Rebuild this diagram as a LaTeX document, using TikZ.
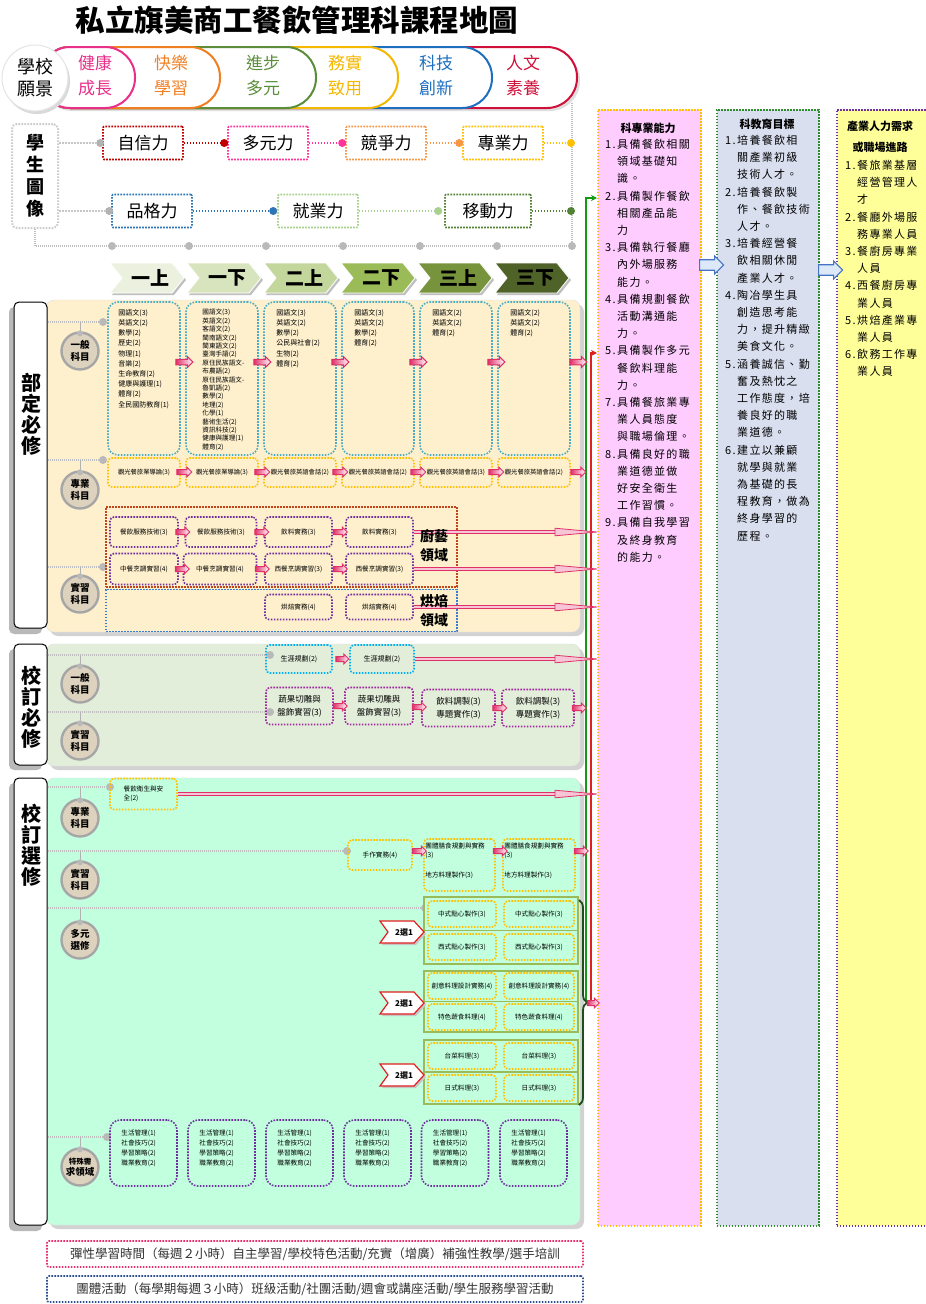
\documentclass[tikz,border=0pt]{standalone}
\usepackage{fontspec}
\setmainfont{Noto Sans CJK TC}
\newfontfamily\spc[LetterSpace=12]{Noto Sans CJK TC}
\usetikzlibrary{arrows.meta,decorations.pathreplacing,shapes.arrows,calc}
\newcommand\myfs[2]{\fontsize{#1}{#2}\selectfont}
\newcommand\itm[1]{\makebox[12pt][l]{#1}}
\newcommand\ind{\hspace*{12pt}}
\definecolor{pk}{HTML}{E8308A}
\definecolor{orng}{HTML}{F07F22}
\definecolor{grn}{HTML}{5B8E3A}
\definecolor{ylw}{HTML}{F5B800}
\definecolor{blu}{HTML}{1F6FC0}
\definecolor{rd}{HTML}{D0103A}
\definecolor{cdkred}{HTML}{C00000}
\definecolor{cpink}{HTML}{FF3399}
\definecolor{corange}{HTML}{F79646}
\definecolor{cyel}{HTML}{FFC000}
\definecolor{cblue}{HTML}{2E75B6}
\definecolor{clgreen}{HTML}{A9D18E}
\definecolor{cdgreen}{HTML}{548235}
\definecolor{ch1}{HTML}{EBF1DE}
\definecolor{ch2}{HTML}{D7E4BD}
\definecolor{ch3}{HTML}{C3D69B}
\definecolor{ch4}{HTML}{9BBB59}
\definecolor{ch5}{HTML}{77933C}
\definecolor{ch6}{HTML}{4F6228}
\definecolor{panelA}{HTML}{FEF0CC}
\definecolor{panelB}{HTML}{E3EEDA}
\definecolor{panelC}{HTML}{C1FFDF}
\definecolor{tealb}{HTML}{4BACC6}
\definecolor{purp}{HTML}{7030A0}
\definecolor{purp2}{HTML}{9E2A9E}
\definecolor{culred}{HTML}{C0451A}
\definecolor{bakeblue}{HTML}{3A7BD5}
\definecolor{cyanb}{HTML}{00B0F0}
\definecolor{colpink}{HTML}{FFCCFF}
\definecolor{colblue}{HTML}{D9DFEF}
\definecolor{colyellow}{HTML}{FFFF99}
\definecolor{colBedge}{HTML}{2E8B2E}
\definecolor{arrowpink}{HTML}{E0306A}
\definecolor{arrowfill}{HTML}{F7C6D6}
\definecolor{badgefill}{HTML}{DDD2BE}
\definecolor{badgeedge}{HTML}{A6A6A6}
\definecolor{grpgreen}{HTML}{9BBB59}
\definecolor{linegreen}{HTML}{139A13}
\definecolor{linered}{HTML}{E02020}
\definecolor{bracegreen}{HTML}{1E4D1E}
\definecolor{notepink}{HTML}{E8306A}
\definecolor{notenavy}{HTML}{2F4F8F}
\definecolor{bluefill}{HTML}{DDE8F8}
\definecolor{blueedge}{HTML}{4472C4}
\newcommand\longarr[2]{%
  \draw[draw=arrowpink, line width=3.2pt] (#1) -- ($(#2)+(-34,0)$);
  \draw[draw=arrowfill, line width=1.2pt] (#1) -- ($(#2)+(-34,0)$);
  \filldraw[draw=arrowpink, fill=arrowfill, line width=0.8pt] ($(#2)+(-42,-3.8)$) -- (#2) -- ($(#2)+(-42,3.8)$) -- cycle;}
\newcommand\subjrow[6]{%
  \node[gdot] (#1d) at (#3,#4) {};
  \draw[gline] (#2.east |- #1d) -- (#1d);
  \node[badge] (#1b) at (80,#5) {#6};
  \draw[draw=gray!60, line width=1pt] (#1b.north |- #1d) -- (#1b.north);
  \node[gdot, minimum size=6pt] (#1h) at ($(#1b.north)+(0,2)$) {};}
\begin{document}
\begin{tikzpicture}[x=1pt,y=-1pt,
  every node/.style={inner sep=1pt},
  dbox/.style={draw=#1, dash pattern=on 1.6pt off 1.4pt, line width=1.6pt, rounded corners=4pt, align=center},
  pbox/.style={dbox=#1, minimum width=80pt, minimum height=33pt, font=\myfs{17}{20}, rounded corners=1pt},
  sbx/.style={dbox=#1, font=\myfs{6.6}{9}, inner sep=0.5pt},
  pdot/.style={circle, fill=#1, inner sep=0pt, minimum size=8pt},
  pline/.style={draw=#1, line width=2pt, dash pattern=on 1.5pt off 1.5pt},
  gline/.style={draw=gray!50, line width=2.4pt, dash pattern=on 0.9pt off 1.1pt},
  gdot/.style={circle, fill=gray!55, inner sep=0pt, minimum size=8pt},
  badge/.style={circle, minimum size=37pt, inner sep=0pt, fill=badgefill, draw=badgeedge, line width=2.4pt, font=\myfs{9.5}{11.5}\bfseries, align=center},
  smarr/.style={single arrow, draw=arrowpink, line width=1pt, left color=arrowpink, right color=white, minimum height=17pt, minimum width=11pt, inner sep=2pt, single arrow head extend=2.5pt},
  coltxt/.style={anchor=north west, align=left, inner sep=0pt, font=\myfs{7}{10.2}},
  vlabel/.style={font=\myfs{20}{21}\bfseries, align=center},
  pill/.style={font=\myfs{17}{25}, align=center},
  domlab/.style={font=\myfs{14}{19}\bfseries, align=center},
  tabbox/.style={draw=black, fill=white, line width=1pt, rounded corners=5pt, minimum width=33pt, inner sep=0pt},
  colbox/.style={dash pattern=on 1.6pt off 1.4pt, line width=1.6pt, anchor=north west, inner sep=0pt},
  coltext/.style={anchor=north west, align=left, inner sep=0pt, font=\spc\myfs{11}{17.2}},
  coltitle/.style={font=\myfs{11}{21}\bfseries, align=center},
  tagtxt/.style={font=\myfs{8}{9}\bfseries}
]
\useasboundingbox (0,0) rectangle (926,1304);
\clip (0,0) rectangle (926,1304);
\fill[white] (0,0) rectangle (926,1304);

% ---------- title ----------
\node[font=\myfs{29.5}{31}\bfseries] (title) at (297,20) {私立旗美商工餐飲管理科課程地圖};

% ---------- vision banner ----------
\fill[gray!25, rounded corners=30pt] (42,50) rectangle (580,111);
\foreach \xr/\c in {577/rd,492/blu,398/ylw,316/grn,220/orng,135/pk}
  \draw[draw=\c, line width=2pt, fill=white, rounded corners=30pt] (40,47) rectangle (\xr,108);
\fill[gray!30] (37,81) circle (33);
\node[circle, fill=white, draw=gray!20, line width=1pt, minimum size=66pt, font=\myfs{18}{22}, align=center] (vision) at (35,78) {學校\\願景};
\node[pill, text=pk] (v1) at (95,76) {健康\\成長};
\node[pill, text=orng] (v2) at (171,76) {快樂\\學習};
\node[pill, text=grn] (v3) at (263,76) {進步\\多元};
\node[pill, text=ylw] (v4) at (345,76) {務實\\致用};
\node[pill, text=blu] (v5) at (436,76) {科技\\創新};
\node[pill, text=rd] (v6) at (523,76) {人文\\素養};

% ---------- student portrait ----------
\node[dbox=gray!40, line width=2pt, rounded corners=5pt, minimum width=46pt, minimum height=104pt, font=\myfs{18}{22}\bfseries] (sp) at (35,176) {學\\生\\圖\\像};
\node[pbox=cdkred] (p1) at (143,143) {自信力};
\node[pbox=cpink] (p2) at (268,143) {多元力};
\node[pbox=corange] (p3) at (386,143) {競爭力};
\node[pbox=cyel] (p4) at (503,143) {專業力};
\node[pbox=cblue] (q1) at (152,211) {品格力};
\node[pbox=clgreen] (q2) at (318,211) {就業力};
\node[pbox=cdgreen, minimum width=86pt] (q3) at (488,211) {移動力};
\coordinate (fa) at (572,246);
\coordinate (fb) at (572,103);
\draw[gline] (sp.south) |- (fa) -- (fb);
\node[pdot=gray!60] (d1) at ($(p1.west)+(-2,0)$) {};
\node[pdot=cdkred] (d2) at ($(p2.west)+(-3,0)$) {};
\node[pdot=cpink] (d3) at ($(p3.west)+(-3,0)$) {};
\node[pdot=corange] (d4) at ($(p4.west)+(-3,0)$) {};
\node[pdot=cyel] (d5) at (571,143) {};
\node[pdot=gray!60] (e1) at ($(q1.west)+(-2,0)$) {};
\node[pdot=cblue] (e2) at ($(q2.west)+(-4,0)$) {};
\node[pdot=clgreen] (e3) at ($(q3.west)+(-6,0)$) {};
\node[pdot=cdgreen] (e4) at (571,211) {};
\draw[pline=gray!45] (sp.east |- d1) -- (d1);
\draw[pline=cdkred] (p1.east) -- (d2);
\draw[pline=cpink] (p2.east) -- (d3);
\draw[pline=corange] (p3.east) -- (d4);
\draw[pline=cyel] (p4.east) -- (d5);
\draw[pline=gray!45] (sp.east |- e1) -- (e1);
\draw[pline=cblue] (q1.east) -- (e2);
\draw[pline=clgreen] (q2.east) -- (e3);
\draw[pline=cdgreen] (q3.east) -- (e4);
\foreach \i/\x in {1/112,2/189,3/266,4/343,5/420,6/497,7/572}
  \node[gdot] (bd\i) at (\x,246) {};

% ---------- semester chevrons ----------
\foreach \i/\t/\c in {0/一上/ch1,1/一下/ch2,2/二上/ch3,3/二下/ch4,4/三上/ch5,5/三下/ch6}{
  \pgfmathsetmacro\xa{110+77*\i}
  \fill[gray!50] (\xa+2,265) -- ++(62,0) -- ++(12,15) -- ++(-12,15) -- ++(-62,0) -- ++(12,-15) -- cycle;
  \filldraw[fill=\c, draw=white, line width=0.8pt] (\xa,263) -- ++(62,0) -- ++(12,15) -- ++(-12,15) -- ++(-62,0) -- ++(12,-15) -- cycle;
  \node[font=\myfs{19}{20}\bfseries] (sem\i) at (\xa+40,278) {\t};
}

% ---------- right columns ----------
\node[colbox, draw=cyel, fill=colpink, minimum width=103pt, minimum height=1116pt] (colA) at (597,109) {};
\node[colbox, draw=colBedge, fill=colblue, minimum width=102pt, minimum height=1116pt] (colB) at (716,109) {};
\node[colbox, draw=purp, fill=colyellow, minimum width=100pt, minimum height=1116pt] (colC) at (836,109) {};
\node[coltitle] (tA) at (648,128) {科專業能力};
\node[coltitle] (tB) at (767,124) {科教育目標};
\node[coltitle] (tC) at (880,137) {產業人力需求\\或職場進路};
\node[coltext] (xA) at (605,139) {%
\itm{1.}具備餐飲相關\\ \ind 領域基礎知\\ \ind 識。\\
\itm{2.}具備製作餐飲\\ \ind 相關產品能\\ \ind 力\\
\itm{3.}具備執行餐廳\\ \ind 內外場服務\\ \ind 能力。\\
\itm{4.}具備規劃餐飲\\ \ind 活動溝通能\\ \ind 力。\\
\itm{5.}具備製作多元\\ \ind 餐飲料理能\\ \ind 力。\\
\itm{7.}具備餐旅業專\\ \ind 業人員態度\\ \ind 與職場倫理。\\
\itm{8.}具備良好的職\\ \ind 業道德並做\\ \ind 好安全衛生\\ \ind 工作習慣。\\
\itm{9.}具備自我學習\\ \ind 及終身教育\\ \ind 的能力。};
\node[coltext] (xB) at (725,135) {%
\itm{1.}培養餐飲相\\ \ind 關產業初級\\ \ind 技術人才。\\
\itm{2.}培養餐飲製\\ \ind 作、餐飲技術\\ \ind 人才。\\
\itm{3.}培養經營餐\\ \ind 飲相關休閒\\ \ind 產業人才。\\
\itm{4.}陶冶學生具\\ \ind 創造思考能\\ \ind 力，提升精緻\\ \ind 美食文化。\\
\itm{5.}涵養誠信、勤\\ \ind 奮及熱忱之\\ \ind 工作態度，培\\ \ind 養良好的職\\ \ind 業道德。\\
\itm{6.}建立以兼顧\\ \ind 就學與就業\\ \ind 為基礎的長\\ \ind 程教育，做為\\ \ind 終身學習的\\ \ind 歷程。};
\node[coltext] (xC) at (845,160) {%
\itm{1.}餐旅業基層\\ \ind 經營管理人\\ \ind 才\\
\itm{2.}餐廳外場服\\ \ind 務專業人員\\
\itm{3.}餐廚房專業\\ \ind 人員\\
\itm{4.}西餐廚房專\\ \ind 業人員\\
\itm{5.}烘焙產業專\\ \ind 業人員\\
\itm{6.}飲務工作專\\ \ind 業人員};
\node[single arrow, draw=blueedge, fill=bluefill, line width=1.2pt, minimum height=24pt, minimum width=18pt, inner sep=3.5pt, single arrow head extend=3pt] (ba1) at (709,265) {};
\node[single arrow, draw=blueedge, fill=bluefill, line width=1.2pt, minimum height=24pt, minimum width=18pt, inner sep=3.5pt, single arrow head extend=3pt] (ba2) at (828,270) {};

% ---------- section panels ----------
\fill[gray!35, rounded corners=8pt] (50,304) rectangle (584,636);
\filldraw[fill=panelA, draw=gray!25, rounded corners=8pt] (46,300) rectangle (580,632);
\fill[gray!35, rounded corners=8pt] (50,648) rectangle (584,770);
\filldraw[fill=panelB, draw=gray!25, rounded corners=8pt] (46,644) rectangle (580,766);
\fill[gray!35, rounded corners=8pt] (50,782) rectangle (584,1229);
\filldraw[fill=panelC, draw=gray!25, rounded corners=8pt] (46,778) rectangle (580,1225);
\fill[gray!55, rounded corners=5pt] (9,307) rectangle (42,634);
\fill[gray!55, rounded corners=5pt] (9,649) rectangle (42,770);
\fill[gray!55, rounded corners=5pt] (9,783) rectangle (42,1231);
\node[tabbox, minimum height=326pt] (tab1) at (30.5,465) {};
\node[tabbox, minimum height=121pt] (tab2) at (30.5,704.5) {};
\node[tabbox, minimum height=447pt] (tab3) at (30.5,1001.5) {};
\node[vlabel] (lab1) at (31,414) {部\\定\\必\\修};
\node[vlabel] (lab2) at (31,707) {校\\訂\\必\\修};
\node[vlabel] (lab3) at (31,845) {校\\訂\\選\\修};

% ---------- green / red feed lines ----------
\coordinate (gA) at (597,198);
\coordinate (rA) at (597,353);
\coordinate (gB) at (586,1001);
\coordinate (rB) at (591,1001);
\draw[draw=linegreen, line width=1.6pt, -{Stealth[length=6pt,width=6pt]}] (gB) |- (gA);
\draw[draw=linered, line width=1.6pt, -{Stealth[length=6pt,width=6pt]}] (rB) |- (rA);

% ---------- section 1 ----------
\subjrow{sga}{tab1}{103}{322}{351}{一般\\科目}
\subjrow{sgb}{tab1}{103}{460}{490}{專業\\科目}
\subjrow{sgc}{tab1}{103}{567}{594}{實習\\科目}
\foreach \i/\x in {1/144,2/222,3/300,4/378,5/456,6/534}
  \node[dbox=tealb, rounded corners=10pt, minimum width=72pt, minimum height=153pt] (gc\i) at (\x,378.5) {};
\node[coltxt] (gt1) at ($(gc1.north west)+(11,8)$) {國語文(3)\\英語文(2)\\數學(2)\\歷史(2)\\物理(1)\\音樂(2)\\生命教育(2)\\健康與護理(1)\\體育(2)\\全民國防教育(1)};
\node[coltxt, font=\myfs{6.6}{8.4}] (gt2) at ($(gc2.north west)+(17,8)$) {國語文(3)\\英語文(2)\\客語文(2)\\閩南語文(2)\\閩東語文(2)\\臺灣手語(2)\\原住民族語文-\\布農語(2)\\原住民族語文-\\魯凱語(2)\\數學(2)\\地理(2)\\化學(1)\\藝術生活(2)\\資訊科技(2)\\健康與護理(1)\\體育(2)};
\node[coltxt] (gt3) at ($(gc3.north west)+(13,8)$) {國語文(3)\\英語文(2)\\數學(2)\\公民與社會(2)\\生物(2)\\體育(2)};
\node[coltxt] (gt4) at ($(gc4.north west)+(13,8)$) {國語文(3)\\英語文(2)\\數學(2)\\體育(2)};
\node[coltxt] (gt5) at ($(gc5.north west)+(13,8)$) {國語文(2)\\英語文(2)\\體育(2)};
\node[coltxt] (gt6) at ($(gc6.north west)+(13,8)$) {國語文(2)\\英語文(2)\\體育(2)};
\foreach \i/\x in {1/183,2/261,3/339,4/417,5/495,6/577}
  \node[smarr] (ga\i) at (\x,362) {};
\foreach \i/\x/\t in {1/144/觀光餐旅業導論(3),2/222/觀光餐旅業導論(3),3/300/觀光餐旅英語會話(2),4/378/觀光餐旅英語會話(2),5/456/觀光餐旅英語會話(3),6/534/觀光餐旅英語會話(2)}
  \node[sbx=cyel, minimum width=72pt, minimum height=29pt, font=\myfs{6.3}{8}] (pr\i) at (\x,472.5) {\t};
\foreach \i/\x in {1/183,2/261,3/339,4/417,5/495,6/577}
  \node[smarr, minimum height=15pt, minimum width=10pt] (pa\i) at (\x,472) {};
% culinary / baking
\node[dbox=culred, rounded corners=0pt, minimum width=351pt, minimum height=80pt] (cul) at (281.5,547) {};
\node[dbox=bakeblue, rounded corners=0pt, minimum width=351pt, minimum height=42pt] (bak) at (281.5,610.5) {};
\node[sbx=purp, minimum width=68pt, minimum height=30pt] (ra1) at (144,532) {餐飲服務技術(3)};
\node[sbx=purp, minimum width=71pt, minimum height=30pt] (ra2) at (221,532) {餐飲服務技術(3)};
\node[sbx=purp, minimum width=67pt, minimum height=30pt] (ra3) at (298.5,532) {飲料實務(3)};
\node[sbx=purp, minimum width=67pt, minimum height=30pt] (ra4) at (379.5,532) {飲料實務(3)};
\node[sbx=purp, minimum width=68pt, minimum height=31pt] (rb1) at (144,569) {中餐烹調實習(4)};
\node[sbx=purp, minimum width=73pt, minimum height=31pt] (rb2) at (220,569) {中餐烹調實習(4)};
\node[sbx=purp, minimum width=67pt, minimum height=31pt] (rb3) at (298.5,569) {西餐烹調實習(3)};
\node[sbx=purp, minimum width=67pt, minimum height=31pt] (rb4) at (379.5,569) {西餐烹調實習(3)};
\node[sbx=purp, minimum width=67pt, minimum height=25pt] (bk1) at (298.5,607) {烘焙實務(4)};
\node[sbx=purp, minimum width=67pt, minimum height=25pt] (bk2) at (379.5,607) {烘焙實務(4)};
\node[smarr, minimum height=14pt, minimum width=9pt] (raa1) at (181.5,532) {};
\node[smarr, minimum height=14pt, minimum width=9pt] (raa2) at (260.5,532) {};
\node[smarr, minimum height=14pt, minimum width=9pt] (raa3) at (339,532) {};
\node[smarr, minimum height=14pt, minimum width=9pt] (rba1) at (181,569) {};
\node[smarr, minimum height=14pt, minimum width=9pt] (rba2) at (261,569) {};
\node[smarr, minimum height=14pt, minimum width=9pt] (rba3) at (339,569) {};

% ---------- section 2 ----------
\subjrow{sba}{tab2}{270}{655}{684}{一般\\科目}
\subjrow{sbb}{tab2}{270}{712}{741}{實習\\科目}
\node[sbx=cyanb, minimum width=66pt, minimum height=28pt, font=\myfs{7}{9}] (c21) at (299,659) {生涯規劃(2)};
\node[sbx=cyanb, minimum width=64pt, minimum height=28pt, font=\myfs{7}{9}] (c22) at (382,659) {生涯規劃(2)};
\node[smarr, minimum height=13pt, minimum width=9pt] (c2a) at (341,659) {};
\node[sbx=purp2, minimum width=67pt, minimum height=37pt, font=\myfs{8.5}{12.5}] (m21) at (299.5,706) {蔬果切雕與\\盤飾實習(3)};
\node[sbx=purp2, minimum width=68pt, minimum height=37pt, font=\myfs{8.5}{12.5}] (m22) at (379,706) {蔬果切雕與\\盤飾實習(3)};
\node[sbx=purp2, minimum width=73pt, minimum height=37pt, font=\myfs{8.5}{12.5}] (m23) at (458.5,708) {飲料調製(3)\\專題實作(3)};
\node[sbx=purp2, minimum width=72pt, minimum height=37pt, font=\myfs{8.5}{12.5}] (m24) at (538,708) {飲料調製(3)\\專題實作(3)};
\node[smarr, minimum height=14pt, minimum width=9pt] (m2a1) at (339,706) {};
\node[smarr, minimum height=14pt, minimum width=9pt] (m2a2) at (418,707) {};
\node[smarr, minimum height=14pt, minimum width=9pt] (m2a3) at (498.5,708) {};
\node[smarr, minimum height=14pt, minimum width=9pt] (m2a4) at (578,708) {};

% ---------- section 3 ----------
\subjrow{sca}{tab3}{110}{787}{818}{專業\\科目}
\subjrow{scb}{tab3}{347}{851}{880}{實習\\科目}
\subjrow{scc}{tab3}{425}{908}{940}{多元\\選修}
\subjrow{scd}{tab3}{107}{1137}{1167}{\myfs{7.5}{9.5}特殊需\\求領域}
\node[sbx=cyel, minimum width=67pt, minimum height=31pt, align=left] (se1) at (143.5,794) {餐飲衛生與安\\全(2)};
\node[sbx=cyel, minimum width=64pt, minimum height=30pt] (hw) at (380,855) {手作實務(4)};
\node[dbox=cyel, minimum width=71pt, minimum height=52pt] (tg1) at (459.5,865) {};
\node[dbox=cyel, minimum width=72pt, minimum height=52pt] (tg2) at (539,865) {};
\node[coltxt, font=\myfs{6.6}{9}] (tg1a) at ($(tg1.north west)+(2,4)$) {團體膳食規劃與實務\\(3)};
\node[coltxt, font=\myfs{6.6}{9}] (tg1b) at ($(tg1.north west)+(2,34)$) {地方料理製作(3)};
\node[coltxt, font=\myfs{6.6}{9}] (tg2a) at ($(tg2.north west)+(2,4)$) {團體膳食規劃與實務\\(3)};
\node[coltxt, font=\myfs{6.6}{9}] (tg2b) at ($(tg2.north west)+(2,34)$) {地方料理製作(3)};
\node[smarr, minimum height=14pt, minimum width=9pt] (tga1) at (418,851) {};
\node[smarr, minimum height=14pt, minimum width=9pt] (tga2) at (499,851) {};
\node[smarr, minimum height=14pt, minimum width=9pt] (tga3) at (580,851) {};
% elective groups
\node[draw=grpgreen, line width=1.5pt, fill=panelC, minimum width=154pt, minimum height=67pt, inner sep=0pt] (grp1) at (501,930.5) {};
\node[draw=grpgreen, line width=1.5pt, fill=panelC, minimum width=154pt, minimum height=61pt, inner sep=0pt] (grp2) at (501,1001.5) {};
\node[draw=grpgreen, line width=1.5pt, fill=panelC, minimum width=154pt, minimum height=64pt, inner sep=0pt] (grp3) at (501,1072) {};
\draw[draw=grpgreen, line width=1.5pt] (grp1.west) -- (grp1.east);
\draw[draw=grpgreen, line width=1.5pt] (grp2.west) -- (grp2.east);
\draw[draw=grpgreen, line width=1.5pt] (grp3.west) -- (grp3.east);
\foreach \n/\y/\t in {a/914/中式點心製作(3),b/947/西式點心製作(3),c/986/創意料理設計實務(4),d/1017/特色蔬食料理(4),e/1056/台菜料理(3),f/1088/日式料理(3)}{
  \node[sbx=cyel, minimum width=68pt, minimum height=26pt] (ob\n1) at (462,\y) {\t};
  \node[sbx=cyel, minimum width=70pt, minimum height=26pt] (ob\n2) at (539,\y) {\t};
}
\foreach \y/\n in {932/1,1003/2,1075/3}{
  \fill[gray!45] (382,\y-9) -- (416,\y-9) -- (426,\y+2) -- (416,\y+13) -- (382,\y+13) -- (390,\y+2) -- cycle;
  \filldraw[fill=white, draw=linered, line width=1.2pt] (380,\y-11) -- (414,\y-11) -- (424,\y) -- (414,\y+11) -- (380,\y+11) -- (388,\y) -- cycle;
  \node[tagtxt] (tag\n) at (404,\y) {2選1};
}
\coordinate (brT) at (579,900);
\coordinate (brB) at (579,1105);
\draw[draw=bracegreen, line width=1.8pt, decorate, decoration={brace, amplitude=8pt}] (brT) -- (brB);
\node[smarr, minimum height=12pt, minimum width=9pt] (brA) at (592,1003) {};
% special needs
\foreach \i/\x in {1/143.5,2/221.5,3/299.5,4/377.5,5/455,6/533.5}{
  \node[dbox=purp, rounded corners=10pt, minimum width=67pt, minimum height=66pt] (sn\i) at (\x,1153) {};
  \node[coltxt, font=\myfs{6.6}{10}] (snt\i) at ($(sn\i.north west)+(12,10)$) {生活管理(1)\\社會技巧(2)\\學習策略(2)\\職業教育(2)};
}

% ---------- long arrows to column A ----------
\coordinate (ea1) at (colA.west |- ra4.east);
\coordinate (ea2) at (colA.west |- rb4.east);
\coordinate (ea3) at (colA.west |- bk2.east);
\coordinate (ea4) at (colA.west |- c22.east);
\coordinate (ea5) at (colA.west |- se1.east);
\longarr{ra4.east}{ea1}
\longarr{rb4.east}{ea2}
\longarr{bk2.east}{ea3}
\longarr{c22.east}{ea4}
\longarr{se1.east}{ea5}
\node[domlab] (cl1) at (434,546) {廚藝\\領域};
\node[domlab] (cl2) at (434,611) {烘焙\\領域};

% ---------- bottom notes ----------
\node[dbox=notepink, rounded corners=2pt, minimum width=536pt, minimum height=26pt, font=\myfs{12.5}{14}, text=black!80] (n1) at (315,1254) {彈性學習時間（每週２小時）自主學習/學校特色活動/充實（增廣）補強性教學/選手培訓};
\node[dbox=notenavy, rounded corners=2pt, minimum width=536pt, minimum height=26pt, font=\myfs{12.5}{14}, text=black!80] (n2) at (315,1289) {團體活動（每學期每週３小時）班級活動/社團活動/週會或講座活動/學生服務學習活動};
\end{tikzpicture}
\end{document}
